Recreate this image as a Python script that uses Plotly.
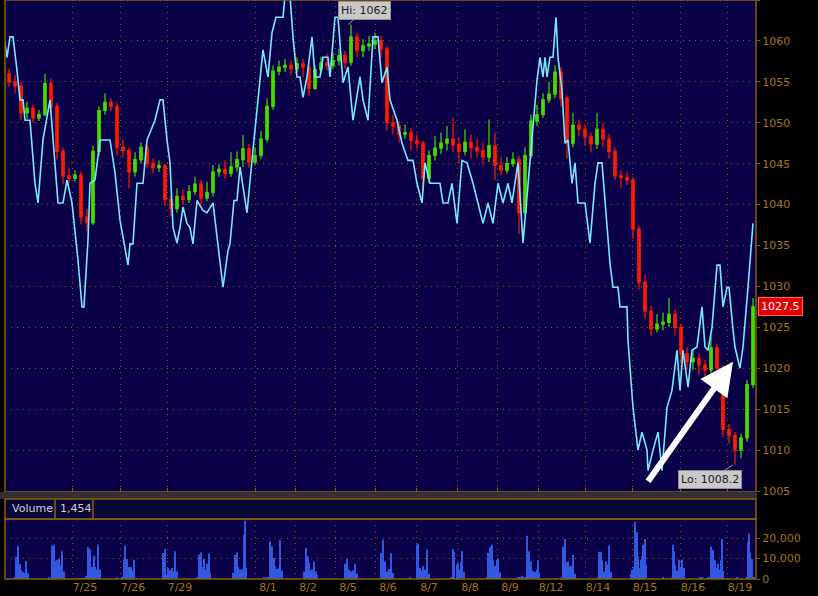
import plotly.graph_objects as go

# ---------------- data ----------------
day_ticks = [72, 120, 167, 255, 295, 335, 375, 416, 457, 497, 538, 585, 632, 680, 727]
day_labels = ['7/25', '7/26', '7/29', '8/1', '8/2', '8/5', '8/6', '8/7', '8/8', '8/9',
              '8/12', '8/14', '8/15', '8/16', '8/19']

first_open = 1056.0
close = [1055.0, 1054.5, 1051.2, 1051.8, 1050.6, 1051.0, 1054.8, 1052.0, 1046.5, 1043.5,
         1043.2, 1043.6, 1038.5, 1037.8, 1046.5, 1051.5, 1052.5, 1052.0, 1047.0, 1046.6,
         1044.0, 1045.5, 1047.0, 1045.0, 1044.5, 1044.8, 1040.6, 1039.5, 1041.0, 1040.6,
         1041.6, 1042.5, 1040.8, 1041.5, 1044.0, 1044.3, 1043.8, 1044.6, 1045.5, 1046.8,
         1045.2, 1046.0, 1048.0, 1052.0, 1056.3, 1056.8, 1057.0, 1056.6, 1057.2, 1056.8,
         1054.2, 1056.5, 1057.3, 1057.0, 1057.6, 1058.2, 1057.4, 1060.5, 1058.8, 1059.4,
         1059.6, 1060.0, 1059.0, 1050.0, 1049.6, 1048.6, 1048.8, 1047.8, 1047.5, 1043.2,
         1046.0, 1046.9, 1047.5, 1048.0, 1047.3, 1046.5, 1047.6, 1047.0, 1046.6, 1045.8,
         1047.2, 1044.8, 1044.2, 1045.0, 1045.5, 1039.0, 1046.0, 1050.2, 1051.0, 1052.8,
         1053.5, 1056.2, 1053.0, 1047.5, 1049.7, 1049.2, 1048.3, 1047.4, 1049.2, 1048.0,
         1046.5, 1043.5, 1043.3, 1043.0, 1037.0, 1030.5, 1027.0, 1024.8, 1025.4, 1025.6,
         1026.6, 1025.0, 1021.8, 1020.8, 1021.2, 1020.4, 1019.8, 1022.5, 1020.0, 1012.5,
         1011.8, 1010.0, 1011.5, 1018.0, 1027.5]
high = [1056.6, 1055.8, 1055.0, 1052.6, 1052.2, 1051.6, 1056.0, 1055.4, 1052.4, 1047.0,
        1044.5, 1044.2, 1044.0, 1039.5, 1047.2, 1052.0, 1053.6, 1053.0, 1052.4, 1048.0,
        1047.0, 1046.4, 1047.6, 1047.4, 1045.6, 1045.4, 1045.0, 1041.2, 1042.0, 1041.8,
        1042.4, 1043.4, 1043.0, 1042.8, 1044.8, 1045.0, 1045.4, 1046.4, 1046.5, 1048.5,
        1047.4, 1047.0, 1049.0, 1053.0, 1057.0, 1057.6, 1057.8, 1057.6, 1058.0, 1057.8,
        1057.0, 1057.0, 1058.0, 1058.4, 1058.6, 1059.0, 1058.8, 1062.0, 1061.0, 1060.2,
        1060.6, 1061.0, 1060.6, 1059.4, 1051.0, 1050.2, 1049.8, 1049.4, 1048.6, 1047.8,
        1046.6, 1048.4, 1048.8, 1049.6, 1050.6, 1048.2, 1049.2, 1048.6, 1048.0, 1047.6,
        1050.4, 1048.8, 1045.8, 1045.8, 1046.4, 1046.0, 1047.0, 1051.0, 1052.2, 1053.6,
        1055.0, 1057.0, 1056.8, 1053.4, 1051.2, 1050.4, 1049.8, 1048.8, 1051.2, 1050.0,
        1048.6, 1047.0, 1044.2, 1044.0, 1043.4, 1037.4, 1031.4, 1027.6, 1026.6, 1026.8,
        1028.6, 1027.2, 1025.4, 1022.6, 1022.2, 1021.8, 1021.0, 1024.0, 1023.0, 1020.4,
        1013.2, 1012.2, 1012.0, 1018.6, 1028.6]
low = [1054.4, 1053.6, 1050.4, 1050.5, 1050.0, 1050.2, 1050.8, 1051.0, 1045.5, 1042.5,
       1042.6, 1042.8, 1037.6, 1036.8, 1037.5, 1046.0, 1051.0, 1051.4, 1046.0, 1045.8,
       1042.0, 1043.4, 1045.0, 1044.4, 1043.8, 1044.0, 1039.8, 1038.6, 1039.0, 1040.0,
       1040.2, 1041.2, 1040.0, 1040.4, 1041.0, 1043.4, 1043.2, 1043.4, 1044.0, 1044.6,
       1044.5, 1044.8, 1045.6, 1047.6, 1051.6, 1055.8, 1056.2, 1055.8, 1056.2, 1055.6,
       1053.2, 1054.0, 1056.0, 1056.4, 1056.6, 1057.0, 1056.6, 1057.0, 1058.0, 1058.0,
       1058.8, 1059.0, 1058.0, 1049.0, 1048.6, 1047.6, 1048.0, 1046.6, 1046.8, 1041.6,
       1042.6, 1045.4, 1046.2, 1046.6, 1046.4, 1045.0, 1046.0, 1045.6, 1045.8, 1044.8,
       1045.2, 1043.0, 1043.6, 1043.8, 1044.6, 1036.4, 1038.6, 1045.6, 1049.6, 1050.6,
       1052.4, 1053.0, 1052.0, 1045.6, 1047.0, 1048.4, 1047.2, 1046.4, 1046.8, 1047.0,
       1045.6, 1043.0, 1042.0, 1042.4, 1035.8, 1029.6, 1026.0, 1024.0, 1024.4, 1024.6,
       1025.0, 1024.0, 1020.6, 1019.8, 1019.8, 1019.2, 1018.8, 1019.4, 1019.4, 1011.6,
       1010.8, 1008.2, 1009.0, 1011.0, 1017.6]
bar_step = 6
bar_start = 9

ind_t = [4, 7, 10, 13, 17, 20, 23, 25, 30, 35, 38, 43, 50, 55, 58, 63, 67, 72, 78, 82, 84, 88, 90,
         95, 100, 110, 115, 120, 128, 130, 133, 137, 143, 147, 155, 160, 163, 167, 170, 173, 177,
         180, 183, 187, 190, 193, 197, 203, 207, 213, 220, 223, 228, 230, 234, 237, 240, 247, 253,
         258, 263, 268, 272, 276, 283, 285, 290, 293, 297, 300, 303, 307, 312, 315, 320, 323, 328,
         330, 335, 338, 343, 348, 353, 360, 363, 368, 373, 378, 382, 387, 390, 397, 402, 408, 413,
         417, 422, 425, 430, 440, 443, 448, 452, 457, 462, 467, 473, 483, 488, 493, 498, 503, 508,
         512, 518, 523, 530, 537, 540, 543, 545, 547, 550, 553, 556, 558, 562, 565, 568, 572, 575,
         578, 585, 590, 595, 598, 602, 605, 610, 613, 618, 620, 627, 628, 633, 638, 642, 647, 648,
         653, 658, 662, 667, 672, 677, 680, 683, 688, 692, 697, 702, 705, 708, 712, 717, 720, 723,
         727, 729, 733, 735, 740, 743, 748, 753]
ind_v = [1060.5, 1058.0, 1060.5, 1060.5, 1056.4, 1052.8, 1052.8, 1050.3, 1050.3, 1042.6, 1040.2,
         1047.9, 1052.8, 1045.4, 1040.2, 1040.2, 1043.0, 1040.2, 1033.2, 1027.5, 1027.5, 1035.7,
         1042.6, 1043.0, 1047.9, 1047.9, 1043.9, 1038.1, 1032.6, 1035.2, 1035.2, 1042.6, 1042.6,
         1047.9, 1050.3, 1052.8, 1052.8, 1047.9, 1045.1, 1037.2, 1035.3, 1037.2, 1039.7, 1037.7,
         1037.2, 1035.2, 1040.5, 1039.3, 1039.0, 1040.2, 1033.2, 1029.9, 1034.4, 1035.2, 1040.5,
         1040.5, 1044.6, 1039.0, 1046.7, 1052.8, 1058.9, 1055.6, 1061.0, 1062.9, 1062.9, 1065.5,
         1065.5, 1060.5, 1055.6, 1055.6, 1053.1, 1055.6, 1060.5, 1055.6, 1055.6, 1058.0, 1058.0,
         1055.6, 1062.9, 1062.9, 1054.9, 1056.8, 1050.3, 1055.6, 1052.8, 1050.3, 1060.5, 1060.5,
         1054.9, 1056.8, 1052.8, 1050.3, 1047.5, 1045.4, 1045.4, 1042.6, 1040.2, 1045.1, 1042.6,
         1042.6, 1040.2, 1040.2, 1042.6, 1037.7, 1045.4, 1045.1, 1042.6, 1037.7, 1040.2, 1037.7,
         1042.6, 1040.2, 1042.6, 1040.2, 1045.1, 1035.3, 1045.1, 1055.2, 1058.0, 1055.6, 1058.0,
         1055.6, 1058.0, 1058.0, 1062.9, 1058.0, 1054.0, 1047.5, 1047.9, 1042.6, 1045.1, 1040.2,
         1040.2, 1035.3, 1042.6, 1045.1, 1045.1, 1040.2, 1032.8, 1029.9, 1029.9, 1027.5, 1027.5,
         1023.4, 1015.2, 1010.0, 1012.2, 1010.0, 1007.5, 1010.0, 1012.2, 1007.5, 1015.2, 1017.3,
         1022.2, 1017.3, 1022.2, 1017.7, 1022.2, 1022.6, 1027.5, 1022.6, 1022.2, 1025.0, 1032.6,
         1032.6, 1027.5, 1029.9, 1029.9, 1024.7, 1022.6, 1020.0, 1022.6, 1029.9, 1037.7]

vol_t = [15, 16, 18, 20, 21, 23, 25, 26, 28,
         49, 52, 54, 56, 57, 59, 61, 62, 64,
         78, 80, 83, 86, 88, 90, 92, 94, 95, 97, 98, 100,
         117, 122, 124, 125, 127, 129, 131, 132, 134,
         163, 165, 167, 168, 170, 172, 173, 175, 177,
         197, 199, 201, 203, 204, 205, 207, 209, 210,
         233, 235, 237, 238, 240, 242, 244, 245, 246,
         264, 267, 269, 270, 272, 274, 275, 277, 279, 280, 282,
         304, 306, 308, 309, 311, 312, 314, 316, 317,
         345, 347, 348, 350, 352, 353, 355, 357,
         381, 383, 385, 387, 388, 389, 391, 393,
         410, 417, 418, 420, 422, 423, 425, 427, 429,
         451, 453, 454, 457, 458, 459, 461, 462, 464,
         487, 488, 490, 492, 493, 495, 497, 498, 500,
         518, 520, 522, 524, 526, 527, 529, 531, 532, 533, 535, 537, 538, 539,
         562, 563, 565, 567, 568, 570, 571, 573, 575,
         598, 599, 601, 602, 604, 606, 607, 609, 611,
         631, 632, 634, 635, 637, 638, 640, 641, 642, 643, 645, 646,
         663, 672, 673, 674, 675, 677, 679, 680, 682, 684,
         700, 702, 708, 710, 711, 713, 715, 716, 718, 719, 721, 722, 723,
         737, 747, 748, 749, 750, 752, 754]
vol_v = [500, 10900, 16100, 7300, 4400, 3400, 2900, 8800, 2900,
         500, 16300, 16700, 8900, 9400, 9800, 7000, 13500, 3700,
         300, 300, 400, 1600, 15600, 14600, 5900, 11400, 5900, 4600, 16700, 4600,
         500, 500, 9800, 16300, 9800, 5900, 5900, 4200, 9400,
         12700, 14600, 2100, 5400, 4200, 5400, 3700, 13500, 3700,
         1000, 11900, 13000, 5900, 9800, 4600, 7500, 12400, 3300,
         2900, 11900, 13000, 5900, 4600, 4600, 21600, 28500, 5500,
         500, 500, 500, 18400, 15900, 10200, 6200, 4900, 5400, 19200, 4200,
         3700, 15100, 11000, 7800, 4200, 4600, 8600, 3700, 2100,
         7500, 9800, 4900, 4200, 3700, 4200, 7500, 2600,
         12700, 19200, 8600, 3700, 2900, 4900, 12700, 2900,
         500, 16700, 17200, 5400, 4200, 6200, 4600, 14300, 2600,
         1000, 14600, 13300, 7000, 7800, 4600, 8100, 13700, 3600,
         500, 12700, 15600, 16700, 9400, 6500, 9400, 9800, 3300,
         500, 500, 1600, 500, 1000, 21100, 13500, 8600, 4200, 3700, 3600, 4600, 9100, 2900,
         1000, 15900, 19500, 8100, 8600, 6200, 6500, 11900, 2600,
         500, 13300, 13300, 9100, 3700, 8600, 7000, 16300, 3300,
         2600, 4600, 5900, 28000, 22800, 11000, 5400, 9400, 11000, 16700, 19500, 7000,
         500, 500, 16700, 13500, 7000, 4200, 9400, 5900, 9400, 5400,
         500, 500, 500, 1000, 15900, 14000, 9100, 5500, 7500, 4600, 9100, 19500, 4200,
         500, 1000, 17900, 22100, 13000, 9800, 1000]

price_ticks = [1005, 1010, 1015, 1020, 1025, 1030, 1035, 1040, 1045, 1050, 1055, 1060, 1065]
vol_ticks = [0, 10000, 20000]
vol_tick_labels = ['0', '10,000', '20,000']
hi_value, hi_t = 1062, 348
lo_value, lo_t = 1008.2, 733
last_price = 1027.5
volume_last = '1,454'

# ---------------- build ----------------
bar_t = [bar_start + bar_step * i for i in range(len(close))]
opens = [first_open] + close[:-1]

NAVY = '#0a0048'
BROWN = '#8c5c0c'
LABEL = '#a8741c'
FONT = 'DejaVu Sans'

H = 579.0
main_dom = [(H - 492) / H, 1.0]
vol_dom = [0.0, 60 / H]
hdr_dom = [60 / H, 80 / H]
sep_dom = [80 / H, (H - 492) / H]
XW = 751.0

fig = go.Figure()
fig.add_trace(go.Candlestick(
    x=bar_t, open=opens, high=high, low=low, close=close,
    increasing=dict(line=dict(color='#44dd00', width=1.2), fillcolor='#44dd00'),
    decreasing=dict(line=dict(color='#ff1a00', width=1.2), fillcolor='#ff1a00'),
    whiskerwidth=0, xaxis='x', yaxis='y', hoverinfo='skip'))
fig.add_trace(go.Scatter(
    x=ind_t, y=ind_v, mode='lines', line=dict(color='#78e8ff', width=1.6),
    xaxis='x', yaxis='y', hoverinfo='skip'))
fig.add_trace(go.Bar(
    x=vol_t, y=vol_v, width=1.3, marker=dict(color='#3358e0', line=dict(width=0)),
    xaxis='x2', yaxis='y2', hoverinfo='skip'))

grid = dict(showgrid=True, gridcolor='#8c6400', gridwidth=1, griddash='1px,5px')

fig.update_layout(
    width=818, height=596,
    margin=dict(l=5, r=62, t=0, b=17),
    paper_bgcolor='black', plot_bgcolor=NAVY,
    showlegend=False, boxgap=0.42,
    font=dict(family=FONT, size=11, color=LABEL),
    xaxis=dict(domain=[0, 1], anchor='y', range=[5, 756], tickvals=day_ticks,
               showticklabels=False, ticks='inside', ticklen=4, tickcolor=BROWN,
               zeroline=False, rangeslider=dict(visible=False), automargin=False, **grid),
    xaxis2=dict(domain=[0, 1], anchor='y2', range=[5, 756], matches='x',
                tickvals=day_ticks, ticktext=day_labels, ticks='', ticklabelshift=13,
                tickfont=dict(family=FONT, size=11, color=LABEL),
                zeroline=False, automargin=False, **grid),
    yaxis=dict(domain=main_dom, anchor='x', side='right', range=[1004.88, 1065],
               tickvals=price_ticks, ticks='outside', ticklen=3, tickcolor=BROWN,
               tickfont=dict(family=FONT, size=11, color=LABEL),
               zeroline=False, automargin=False, **grid),
    yaxis2=dict(domain=vol_dom, anchor='x2', side='right', range=[0, 29300],
                tickvals=vol_ticks, ticktext=vol_tick_labels, ticks='outside', ticklen=3,
                tickcolor=BROWN, tickfont=dict(family=FONT, size=11, color=LABEL),
                zeroline=False, automargin=False, **grid),
)

shapes = [
    dict(type='rect', xref='paper', yref='paper', x0=0, x1=1, y0=main_dom[0], y1=1,
         line=dict(color=BROWN, width=1.5), fillcolor='rgba(0,0,0,0)', layer='above'),
    dict(type='rect', xref='paper', yref='paper', x0=-5 / XW, x1=1 + 1 / XW,
         y0=sep_dom[0], y1=sep_dom[1], line=dict(width=0), fillcolor='#303030', layer='above'),
    dict(type='rect', xref='paper', yref='paper', x0=0, x1=1, y0=hdr_dom[0], y1=hdr_dom[1],
         line=dict(color=BROWN, width=1.5), fillcolor='#090638', layer='above'),
    dict(type='line', xref='paper', yref='paper', x0=50 / XW, x1=50 / XW,
         y0=hdr_dom[0], y1=hdr_dom[1], line=dict(color=BROWN, width=1.5)),
    dict(type='line', xref='paper', yref='paper', x0=88 / XW, x1=88 / XW,
         y0=hdr_dom[0], y1=hdr_dom[1], line=dict(color=BROWN, width=1.5)),
    dict(type='rect', xref='paper', yref='paper', x0=0, x1=1, y0=0, y1=vol_dom[1],
         line=dict(color=BROWN, width=1.5), fillcolor='rgba(0,0,0,0)', layer='above'),
]
fig.update_layout(shapes=shapes)

hdr_mid = (hdr_dom[0] + hdr_dom[1]) / 2
annotations = [
    dict(xref='paper', yref='paper', x=5 / XW, y=hdr_mid, text='Volume', showarrow=False,
         xanchor='left', yanchor='middle', font=dict(family=FONT, size=11, color='#d0d0d0')),
    dict(xref='paper', yref='paper', x=53 / XW, y=hdr_mid, text=volume_last, showarrow=False,
         xanchor='left', yanchor='middle', font=dict(family=FONT, size=11, color='#d0d0d0')),
    dict(x=hi_t, y=hi_value, xref='x', yref='y', text='Hi: ' + str(hi_value), showarrow=True,
         arrowhead=0, arrowcolor='#a0a0a0', arrowwidth=1, ax=16, ay=-14,
         bgcolor='#c8c8c8', bordercolor='#909090', borderwidth=1, borderpad=2,
         font=dict(family=FONT, size=11, color='#202020')),
    dict(x=lo_t, y=lo_value, xref='x', yref='y', text='Lo: ' + str(lo_value), showarrow=True,
         arrowhead=0, arrowcolor='#a0a0a0', arrowwidth=1, ax=-23, ay=15,
         bgcolor='#c8c8c8', bordercolor='#909090', borderwidth=1, borderpad=2,
         font=dict(family=FONT, size=11, color='#202020')),
    dict(xref='paper', yref='y', x=1 + 2 / XW, y=last_price, text=str(last_price),
         showarrow=False, xanchor='left', yanchor='middle', bgcolor='#e00000',
         bordercolor='#ff6060', borderwidth=1, borderpad=2,
         font=dict(family=FONT, size=11, color='white')),
    dict(x=733, y=1020.8, xref='x', yref='y', ax=647, ay=1006.0, axref='x', ayref='y',
         text='', showarrow=True, arrowhead=2, arrowsize=1.1, arrowwidth=6,
         arrowcolor='white', standoff=0),
]
fig.update_layout(annotations=annotations)

fig.write_html('out.html', config={'displayModeBar': False},
               post_script="document.body.style.margin='0px';")
